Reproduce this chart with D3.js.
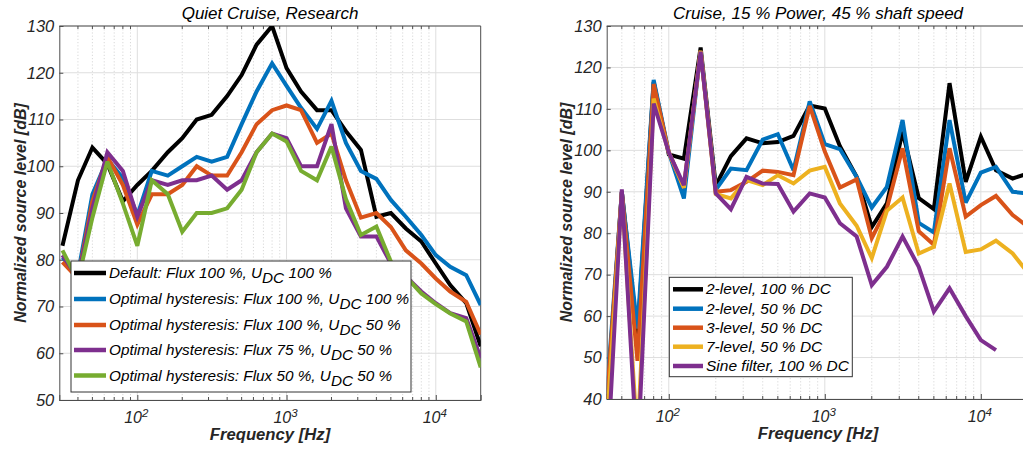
<!DOCTYPE html>
<html><head><meta charset="utf-8">
<script src="https://cdn.jsdelivr.net/npm/d3@7"></script>
<style>
html,body{margin:0;padding:0;background:#fff;}
svg{display:block;font-family:"Liberation Sans",Arial,sans-serif;}
</style></head><body>
<svg id="c" width="1023" height="452"></svg>
<script>
// ---------- DATA ----------
const freqLeft = [31.5,40,50,63,80,100,125,160,200,250,315,400,500,630,800,1000,1250,1600,2000,2500,3150,4000,5000,6300,8000,10000,12500,16000,20000];
const leftDefault   = [83,97,104,100.5,92.5,96,99,103,106,110,111,115,119.5,126,130,121,116,112,112,107.5,103.5,89.2,90,86.7,83.9,79.2,74.6,70.7,61.5];
const leftOpt100    = [80.5,77,94,101.5,97.5,89.5,99,98,100,102,101,102,109,116,122,117.2,112.5,108,114,105,99,97.3,92.8,89.2,85.3,81,78.5,76.7,70.3];
const leftOpt100h   = [79.5,76,92.5,102,96,87.5,94,94,96,100,98,98,103,109,112,113,112,105,107,97,89,90,87,82,79.2,76,73.2,71,64];
const leftOpt75     = [81,76,91,103,99,89.2,97,96,97,97,98,95,97,103,107,106,100,100,109,91,85,85,79.2,76.4,73.2,70.7,68.6,67.5,59];
const leftOpt50     = [82,75.5,89,101,92,83,97,94,86,90,90,91,95,103,107,105.3,99,97,104.2,93,85.3,87.1,79.6,76.4,72.8,70.5,68.5,66.8,57];
const leftNames = ["Default: Flux 100 %, |100 %","Optimal hysteresis: Flux 100 %, |100 %","Optimal hysteresis: Flux 100 %, |50 %","Optimal hysteresis: Flux 75 %, |50 %","Optimal hysteresis: Flux 50 %, |50 %"];

const freqRight = [40,50,63,80,100,125,160,200,250,315,400,500,630,800,1000,1250,1600,2000,2500,3150,4000,5000,6300,8000,10000,12500,16000,20000];
const right2L100 = [38,90,55,116.5,99,98,124.8,91.5,98.6,102.9,101.7,102,103.5,110.8,110.1,101,93.6,81.5,87.2,104.5,88.5,85.8,116.2,92.4,103.3,95.2,93.2,94.4];
const right2L50  = [41,90,57,117,99.5,88.4,124,90.5,95.6,95.2,102.6,103.9,95.2,111.8,101.5,100.3,93.6,86.2,91.2,107.3,82.5,80.2,107.3,87.4,94.6,96,90,89.6];
const right3L50  = [39,90,49.2,116,99.5,91,124,90,90.4,92.4,95.1,94.8,94,110.7,99.7,91,93,78.8,86,100.5,80.5,77.2,100.5,84,86.8,89,84.4,81.6];
const right7L50  = [33,89.5,30,112.5,99.5,91,124,89.5,88.4,92.8,91.6,94,92,95.1,96,87.2,81.8,74,85.4,88.6,75.1,76.7,92,75.5,76.1,78.2,75.1,70.5];
const rightSine  = [22,90.6,25,111.3,99.5,91.6,123.8,89.6,85.8,93.6,92,91.9,85.2,89.6,88.6,82.4,79.2,67.5,71.9,79.2,71.9,61.1,66.7,60,54.2,51.8];
const rightNames = ["2-level, 100 % DC","2-level, 50 % DC","3-level, 50 % DC","7-level, 50 % DC","Sine filter, 100 % DC"];

const yTicksLeft = [50,60,70,80,90,100,110,120,130];
const yTicksRight = [40,50,60,70,80,90,100,110,120,130];
const xTickExps = [2,3,4];
const titles = ["Quiet Cruise, Research","Cruise, 15 % Power, 45 % shaft speed"];
const xLabel = "Frequency [Hz]";
const yLabel = "Normalized source level [dB]";

const colLeft = ["#000000","#0072BD","#D95319","#7E2F8E","#77AC30"];
const colRight = ["#000000","#0072BD","#D95319","#EDB120","#7E2F8E"];

// ---------- DRAW ----------
const svg = d3.select("#c");
const txt = "#262626";

function panel(id, cfg){
  const x = d3.scaleLog().domain(cfg.xdom).range([cfg.x0, cfg.x1]);
  const y = d3.scaleLinear().domain(cfg.ydom).range([cfg.y1, cfg.y0]);
  const g = svg.append("g");
  svg.append("clipPath").attr("id","clip"+id).append("rect")
    .attr("x",cfg.x0).attr("y",cfg.y0).attr("width",cfg.x1-cfg.x0).attr("height",cfg.y1-cfg.y0);
  const minor = [];
  for(let e=1;e<=4;e++) for(let m=2;m<=9;m++){ const v=m*Math.pow(10,e); if(v>cfg.xdom[0]&&v<cfg.xdom[1]) minor.push(v); }
  g.append("g").attr("clip-path","url(#clip"+id+")").selectAll("line").data(minor).join("line")
    .attr("x1",d=>x(d)).attr("x2",d=>x(d)).attr("y1",cfg.y0).attr("y2",cfg.y1)
    .attr("stroke","#cfcfcf").attr("stroke-width",0.8).attr("stroke-dasharray","1.2,2");
  const majors = xTickExps.map(e=>Math.pow(10,e));
  g.append("g").selectAll("line").data(majors).join("line")
    .attr("x1",d=>x(d)).attr("x2",d=>x(d)).attr("y1",cfg.y0).attr("y2",cfg.y1)
    .attr("stroke","#dedede").attr("stroke-width",1);
  g.append("g").selectAll("line").data(cfg.yticks).join("line")
    .attr("x1",cfg.x0).attr("x2",cfg.x1).attr("y1",d=>y(d)).attr("y2",d=>y(d))
    .attr("stroke","#dedede").attr("stroke-width",1);
  const yAxis = d3.axisLeft(y).tickValues(cfg.yticks).tickSize(-4).tickPadding(5).tickFormat(d3.format("d"));
  const ya = g.append("g").attr("transform",`translate(${cfg.x0},0)`).call(yAxis);
  ya.select(".domain").attr("stroke","#4d4d4d");
  ya.selectAll(".tick line").attr("stroke","#4d4d4d");
  ya.selectAll("text").attr("font-size",16.5).attr("font-style","italic").attr("fill",txt)
    .attr("font-family",'"Liberation Sans",Arial,sans-serif');
  const xAxis = d3.axisBottom(x).tickValues(majors).tickSize(-5).tickFormat("");
  const xa = g.append("g").attr("transform",`translate(0,${cfg.y1})`).call(xAxis);
  xa.select(".domain").attr("stroke","#4d4d4d");
  xa.selectAll(".tick line").attr("stroke","#4d4d4d");
  g.append("g").selectAll("line").data(minor).join("line")
    .attr("x1",d=>x(d)).attr("x2",d=>x(d)).attr("y1",cfg.y1).attr("y2",cfg.y1-3)
    .attr("stroke","#4d4d4d");
  g.append("g").selectAll("line").data(minor).join("line")
    .attr("x1",d=>x(d)).attr("x2",d=>x(d)).attr("y1",cfg.y0).attr("y2",cfg.y0+3)
    .attr("stroke","#4d4d4d");
  g.append("line").attr("x1",cfg.x0).attr("x2",cfg.x1).attr("y1",cfg.y0).attr("y2",cfg.y0).attr("stroke","#4d4d4d");
  g.append("line").attr("x1",cfg.x1).attr("x2",cfg.x1).attr("y1",cfg.y0).attr("y2",cfg.y1).attr("stroke","#4d4d4d");
  const xl = g.append("g").selectAll("text").data(xTickExps).join("text")
    .attr("x",d=>x(Math.pow(10,d))-1).attr("y",cfg.y1+23).attr("text-anchor","middle")
    .attr("font-size",16).attr("font-style","italic").attr("fill",txt);
  xl.append("tspan").text("10");
  xl.append("tspan").attr("dy",-6).attr("font-size",11.5).text(d=>d);
  const line = d3.line().x(d=>x(d[0])).y(d=>y(d[1]));
  const lg = g.append("g").attr("clip-path","url(#clip"+id+")");
  cfg.series.forEach((s,i)=>{
    const pts = s.map((v,j)=>[cfg.freq[j],v]);
    lg.append("path").attr("d",line(pts)).attr("fill","none")
      .attr("stroke",cfg.colors[i]).attr("stroke-width",4).attr("stroke-linejoin","miter").attr("stroke-miterlimit",3);
  });
  g.append("text").attr("x",cfg.tcx).attr("y",19).attr("text-anchor","middle")
    .attr("font-size",17).attr("font-style","italic").attr("fill","#000").text(cfg.title);
  g.append("text").attr("x",cfg.tcx).attr("y",cfg.y1+40).attr("text-anchor","middle")
    .attr("font-size",16.7).attr("font-style","italic").attr("font-weight","bold").attr("fill",txt).text(xLabel);
  g.append("text").attr("transform",`translate(${cfg.ylx},${(cfg.y0+cfg.y1)/2}) rotate(-90)`)
    .attr("text-anchor","middle").attr("font-size",16).attr("font-style","italic").attr("font-weight","bold")
    .attr("fill",txt).text(yLabel);
  const L = cfg.leg;
  const lgd = g.append("g");
  lgd.append("rect").attr("x",L.x).attr("y",L.y).attr("width",L.w).attr("height",L.h)
    .attr("fill","#fff").attr("stroke","#333").attr("stroke-width",1);
  cfg.names.forEach((n,i)=>{
    const cy = L.rows[i];
    lgd.append("line").attr("x1",L.lx0).attr("x2",L.lx1).attr("y1",cy).attr("y2",cy)
      .attr("stroke",cfg.colors[i]).attr("stroke-width",4.5);
    const t = lgd.append("text").attr("x",L.tx).attr("y",cy+5).attr("font-size",L.fs)
      .attr("font-style","italic").attr("fill","#000");
    if(n.includes("|")){
      const parts = n.split("|");
      t.append("tspan").text(parts[0]+"U");
      t.append("tspan").attr("dy",5).attr("font-size",L.fs).text("DC");
      t.append("tspan").attr("dy",-5).text(" "+parts[1]);
    } else t.text(n);
  });
}

panel("L",{x0:59.3,x1:480.7,y0:26,y1:400,xdom:[30,20000],ydom:[50,130],yticks:yTicksLeft,
  freq:freqLeft,series:[leftDefault,leftOpt100,leftOpt100h,leftOpt75,leftOpt50],colors:colLeft,names:leftNames,
  title:titles[0],tcx:270,ylx:25.5,
  leg:{x:71,y:261,w:340,h:131,rows:[273,299,325,350,375.5],lx0:74,lx1:106,tx:109,fs:15.3}});
panel("R",{x0:606.7,x1:1027.8,y0:26,y1:399,xdom:[40,20000],ydom:[40,130],yticks:yTicksRight,
  freq:freqRight,series:[right2L100,right2L50,right3L50,right7L50,rightSine],colors:colRight,names:rightNames,
  title:titles[1],tcx:818,ylx:572,
  leg:{x:669.3,y:277.3,w:183,h:99.4,rows:[289.3,308.7,327.7,346.7,366],lx0:673,lx1:703,tx:706,fs:15.5}});
</script>
</body></html>
